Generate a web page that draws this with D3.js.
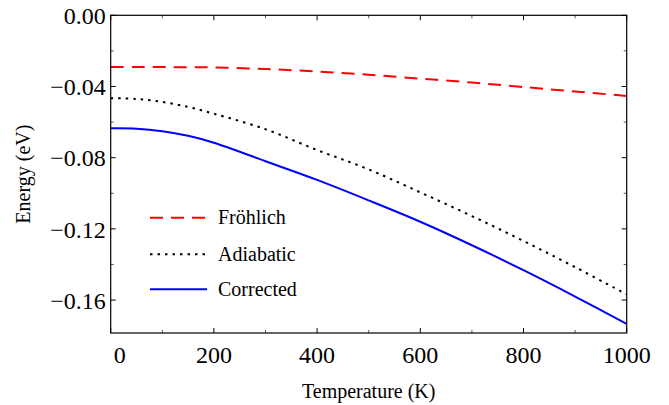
<!DOCTYPE html>
<html>
<head>
<meta charset="utf-8">
<script src="https://d3js.org/d3.v7.min.js"></script>
<style>
body { margin: 0; background: #fff; }
text { font-family: "Liberation Serif", "DejaVu Serif", serif; fill: #000; }
</style>
</head>
<body>
<div id="chart"></div>
<script>
var width = 669;
var height = 405;
var margin = {top: 15.3, right: 42.3, bottom: 72, left: 110.7};
var w = width - margin.left - margin.right;
var h = height - margin.top - margin.bottom;

// data
var temps = [0, 50, 100, 150, 200, 300, 400, 500, 600, 700, 800, 900, 1000];
var frohlich = [-0.0290, -0.0290, -0.0291, -0.0292, -0.0293, -0.0302, -0.0316, -0.0334, -0.0356, -0.0378, -0.0403, -0.0428, -0.0453];
var adiabatic = [-0.0466, -0.0470, -0.0487, -0.0515, -0.0553, -0.0640, -0.0757, -0.0866, -0.0995, -0.1128, -0.1268, -0.1415, -0.1568];
var corrected = [-0.0635, -0.0637, -0.0651, -0.0677, -0.0716, -0.0820, -0.0925, -0.1040, -0.1160, -0.1292, -0.1432, -0.1580, -0.1734];
var xTicks = [0, 200, 400, 600, 800, 1000];
var xMinor = [100, 300, 500, 700, 900];
var yTicks = [0, -0.04, -0.08, -0.12, -0.16];
var yMinor = [-0.02, -0.06, -0.10, -0.14];

var series = [
  {name: "Fröhlich", values: frohlich, color: "#ff0000", dash: "13,8"},
  {name: "Adiabatic", values: adiabatic, color: "#000000", dash: "2.5,5"},
  {name: "Corrected", values: corrected, color: "#0000ff", dash: null}
];

var svg = d3.select("#chart").append("svg")
    .attr("width", width)
    .attr("height", height);

var g = svg.append("g")
    .attr("transform", "translate(" + margin.left + "," + margin.top + ")");

var x = d3.scaleLinear().domain([0, 1000]).range([0, w]);
var y = d3.scaleLinear().domain([-0.1785, 0]).range([h, 0]);

var line = d3.line()
    .x(function(d) { return x(d[0]); })
    .y(function(d) { return y(d[1]); })
    .curve(d3.curveCatmullRom.alpha(0.5));

g.append("defs").append("clipPath").attr("id", "clip")
  .append("rect").attr("width", w).attr("height", h);

series.forEach(function(s) {
  g.append("path")
    .datum(temps.map(function(t, i) { return [t, s.values[i]]; }))
    .attr("clip-path", "url(#clip)")
    .attr("fill", "none")
    .attr("stroke", s.color)
    .attr("stroke-width", 2)
    .attr("stroke-dasharray", s.dash)
    .attr("d", line);
});

// ticks on all four sides, pointing inward
function ticks(axis, vals, len, color) {
  var sel = g.append("g");
  if (axis == "x") {
    vals.forEach(function(v) {
      sel.append("line").attr("x1", x(v)).attr("x2", x(v)).attr("y1", h).attr("y2", h - len);
      sel.append("line").attr("x1", x(v)).attr("x2", x(v)).attr("y1", 0).attr("y2", len);
    });
  } else {
    vals.forEach(function(v) {
      sel.append("line").attr("y1", y(v)).attr("y2", y(v)).attr("x1", 0).attr("x2", len);
      sel.append("line").attr("y1", y(v)).attr("y2", y(v)).attr("x1", w).attr("x2", w - len);
    });
  }
  sel.selectAll("line").attr("stroke", color).attr("stroke-width", 1);
}
ticks("x", xTicks, 5, "#000");
ticks("x", xMinor, 3, "#555");
ticks("y", yTicks, 5, "#000");
ticks("y", yMinor, 3, "#555");

g.append("rect")
  .attr("width", w).attr("height", h)
  .attr("fill", "none").attr("stroke", "#000").attr("stroke-width", 1.2);

var fmt = d3.format(".2f");
g.selectAll(".ylab").data(yTicks).enter().append("text")
  .attr("class", "ylab")
  .attr("x", -5)
  .attr("y", function(d) { return y(d); })
  .attr("dy", "0.36em")
  .attr("text-anchor", "end")
  .style("font-size", "24px")
  .text(function(d) { return fmt(d); });

g.selectAll(".xlab").data(xTicks).enter().append("text")
  .attr("class", "xlab")
  .attr("x", function(d) { return x(d) + (d == 0 ? 9 : 0); })
  .attr("y", h + 30)
  .attr("text-anchor", "middle")
  .style("font-size", "24px")
  .text(function(d) { return d; });

g.append("text")
  .attr("x", w / 2)
  .attr("y", h + 65)
  .attr("text-anchor", "middle")
  .style("font-size", "20px")
  .text("Temperature (K)");

g.append("text")
  .attr("transform", "translate(" + (30 - margin.left) + "," + (h / 2) + ") rotate(-90)")
  .attr("text-anchor", "middle")
  .style("font-size", "20px")
  .text("Energy (eV)");

// legend
var legend = g.append("g").attr("transform", "translate(" + (150 - margin.left) + "," + (217.7 - margin.top) + ")");
var rowY = [0, 36.5, 71.6];
series.forEach(function(s, i) {
  legend.append("line")
    .attr("x1", 0).attr("x2", 57)
    .attr("y1", rowY[i]).attr("y2", rowY[i])
    .attr("stroke", s.color)
    .attr("stroke-width", 2)
    .attr("stroke-dasharray", s.dash);
  legend.append("text")
    .attr("x", 68)
    .attr("y", rowY[i])
    .attr("dy", "0.33em")
    .style("font-size", "20px")
    .text(s.name);
});
</script>
</body>
</html>
